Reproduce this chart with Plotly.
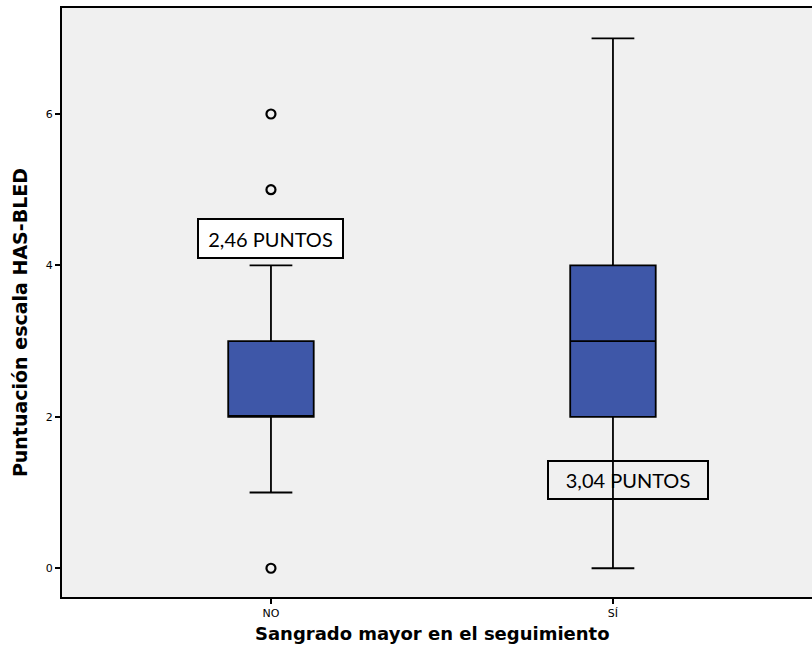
import plotly.graph_objects as go

categories = ["NO", "SÍ"]
q1 = [2, 2]
median = [2, 3]
q3 = [3, 4]
lower = [1, 0]
upper = [4, 7]
outlier_cat = ["NO", "NO", "NO"]
outlier_val = [0, 5, 6]
label_text = ["2,46 PUNTOS", "3,04 PUNTOS"]
label_y = [4.35, 1.16]

fig = go.Figure()
fig.add_trace(go.Box(
    x=categories, q1=q1, median=median, q3=q3,
    lowerfence=lower, upperfence=upper,
    fillcolor="#3e57a8", line=dict(color="black", width=1.8),
    width=0.25, whiskerwidth=0.5, boxpoints=False, showlegend=False,
))
fig.add_trace(go.Scatter(
    x=outlier_cat, y=outlier_val, mode="markers",
    marker=dict(symbol="circle-open", size=9, color="black", line=dict(width=2.2)),
    showlegend=False,
))

fig.add_annotation(x=0, y=label_y[0], xref="x", yref="y", text=label_text[0],
                   showarrow=False, font=dict(family="Lato", size=20, color="black"),
                   bgcolor="white", bordercolor="black", borderwidth=2, borderpad=2,
                   width=139, height=33)
fig.add_annotation(x=1.044, y=label_y[1], xref="x", yref="y", text=label_text[1],
                   showarrow=False, font=dict(family="Lato", size=20, color="black"),
                   bgcolor="rgba(0,0,0,0)", bordercolor="black", borderwidth=2, borderpad=2,
                   width=154, height=32)

# axis titles as annotations for precise placement
fig.add_annotation(x=0.5, y=0, xref="paper", yref="paper", xshift=-5, yshift=-36,
                   text="<b>Sangrado mayor en el seguimiento</b>", showarrow=False,
                   font=dict(family="DejaVu Sans", size=18, color="black"),
                   xanchor="center", yanchor="middle")
fig.add_annotation(x=0, y=0.465, xref="paper", yref="paper", xshift=-42,
                   text="<b>Puntuación escala HAS-BLED</b>", showarrow=False, textangle=-90,
                   font=dict(family="DejaVu Sans", size=19, color="black"),
                   xanchor="center", yanchor="middle")

fig.update_layout(
    width=812, height=656,
    margin=dict(l=62, r=0, t=8, b=59),
    paper_bgcolor="white", plot_bgcolor="#f0f0f0",
    font=dict(family="DejaVu Sans", color="black"),
)
fig.update_xaxes(
    range=[-0.611, 1.582], showgrid=False, zeroline=False,
    showline=True, linecolor="black", linewidth=2, mirror=True,
    ticks="outside", ticklen=5, tickcolor="black", tickwidth=1.5,
    tickfont=dict(size=11),
)
fig.update_yaxes(
    range=[-0.38, 7.4], showgrid=False, zeroline=False,
    showline=True, linecolor="black", linewidth=2,
    ticks="outside", ticklen=5, tickcolor="black", tickwidth=1.5,
    tickvals=[0, 2, 4, 6], tickfont=dict(size=11),
)

fig.write_html("out.html")
